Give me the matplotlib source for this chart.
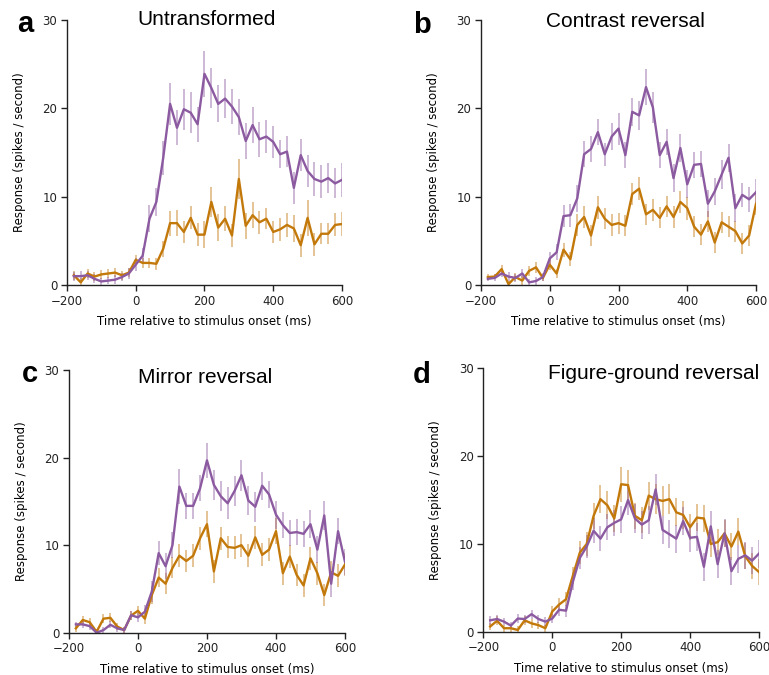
import numpy as np
import matplotlib
matplotlib.use("Agg")
import matplotlib.pyplot as plt
from matplotlib.colors import to_rgba

# time bins (ms), 20 ms steps
t = np.arange(-180, 601, 20)

titles = ["Untransformed", "Contrast reversal", "Mirror reversal", "Figure-ground reversal"]
letters = ["a", "b", "c", "d"]

# purple = preferred, orange = other
purple_a = [1.0, 1.0, 1.1, 0.7, 0.4, 0.5, 0.6, 0.9, 1.3, 2.3,
            3.3, 7.5, 9.4, 14.4, 20.5, 17.8, 19.9, 19.5, 18.2, 23.9,
            22.3, 20.5, 21.1, 20.2, 19.0, 16.3, 18.1, 16.5, 16.8, 16.2,
            14.8, 15.1, 11.0, 14.7, 12.9, 12.0, 11.7, 12.1, 11.5, 11.9]
orange_a = [1.1, 0.3, 1.3, 0.95, 1.2, 1.3, 1.4, 1.1, 1.4, 2.85,
            2.5, 2.5, 2.4, 4.1, 7.0, 7.0, 6.0, 7.6, 5.7, 5.7,
            9.4, 6.5, 7.5, 5.6, 12.0, 6.7, 7.9, 7.1, 7.5, 6.0,
            6.3, 6.8, 6.4, 4.5, 7.6, 4.6, 5.8, 5.8, 6.8, 6.9]
purple_a_err = [0.5, 0.6, 0.5, 0.5, 0.4, 0.4, 0.5, 0.5, 0.6, 0.7,
                0.9, 1.5, 1.6, 1.9, 2.4, 2.0, 2.3, 2.3, 2.0, 2.6,
                2.3, 2.1, 2.2, 2.0, 2.0, 2.0, 2.0, 2.0, 1.9, 1.8,
                1.6, 1.8, 1.8, 1.8, 1.8, 1.9, 1.9, 1.7, 1.7, 1.9]
orange_a_err = [0.5, 0.5, 0.5, 0.5, 0.5, 0.5, 0.5, 0.5, 0.5, 0.6,
                0.6, 0.6, 0.7, 0.9, 1.4, 1.5, 1.3, 1.3, 1.3, 1.5,
                1.7, 1.5, 1.4, 1.3, 2.3, 1.5, 1.5, 1.3, 1.2, 1.2,
                1.3, 1.4, 1.5, 1.3, 2.0, 1.3, 1.2, 1.2, 1.3, 1.4]

purple_b = [0.7, 0.8, 1.3, 0.95, 0.8, 1.3, 0.3, 0.45, 0.9, 3.0,
            3.7, 7.8, 7.9, 9.8, 14.8, 15.4, 17.3, 14.8, 16.8, 17.7,
            14.7, 19.6, 19.2, 22.4, 20.1, 14.7, 16.2, 12.1, 15.5, 11.4,
            13.6, 13.7, 9.2, 10.6, 12.5, 14.4, 8.7, 10.2, 9.7, 10.5]
orange_b = [0.9, 0.95, 1.8, 0.1, 0.9, 0.5, 1.6, 2.0, 0.8, 2.3,
            1.3, 4.0, 2.9, 6.8, 7.7, 5.6, 8.8, 7.5, 6.8, 7.0,
            6.7, 10.3, 10.9, 8.0, 8.5, 7.6, 8.9, 7.7, 9.4, 8.7,
            6.6, 5.7, 7.2, 4.8, 7.1, 6.6, 6.1, 4.7, 5.6, 9.2]
purple_b_err = [0.3, 0.4, 0.4, 0.5, 0.5, 0.5, 0.4, 0.4, 0.5, 0.7,
                0.9, 1.2, 1.3, 1.5, 1.5, 1.5, 1.5, 1.3, 1.5, 1.8,
                1.5, 1.6, 1.6, 2.0, 1.8, 1.5, 1.5, 1.6, 1.6, 1.6,
                1.5, 1.5, 1.5, 1.5, 1.6, 1.6, 1.6, 1.4, 1.4, 1.5]
orange_b_err = [0.3, 0.3, 0.5, 0.4, 0.5, 0.5, 0.6, 0.6, 0.4, 0.6,
                0.5, 0.8, 0.8, 1.2, 1.2, 1.2, 1.3, 1.2, 1.2, 1.2,
                1.2, 1.3, 1.3, 1.2, 1.2, 1.2, 1.2, 1.2, 1.2, 1.3,
                1.2, 1.2, 1.2, 1.2, 1.2, 1.2, 1.2, 1.2, 1.2, 1.3]

purple_c = [0.95, 0.95, 0.75, 0.0, 0.3, 0.9, 0.5, 0.3, 2.0, 1.75,
            2.4, 4.7, 9.1, 7.6, 10.0, 16.7, 14.5, 14.5, 16.5, 19.7,
            16.9, 15.6, 14.8, 16.2, 18.0, 15.1, 14.4, 16.8, 15.8, 13.5,
            12.3, 11.4, 11.5, 11.3, 12.4, 9.5, 13.4, 5.6, 11.6, 8.1]
orange_c = [0.5, 1.45, 1.2, 0.1, 1.6, 1.7, 0.7, 0.3, 1.95, 2.5,
            1.6, 4.3, 6.3, 5.6, 7.4, 8.8, 8.2, 8.8, 10.8, 12.4,
            7.0, 10.8, 9.8, 9.7, 10.0, 8.8, 10.9, 8.9, 9.5, 11.6,
            6.8, 8.7, 6.6, 5.4, 8.5, 6.8, 4.3, 6.9, 6.5, 7.8]
purple_c_err = [0.3, 0.4, 0.4, 0.3, 0.3, 0.4, 0.4, 0.3, 0.5, 0.5,
                0.8, 1.2, 1.4, 1.5, 1.5, 2.0, 1.5, 1.5, 1.5, 2.0,
                1.7, 1.7, 1.8, 1.7, 1.8, 1.7, 1.7, 1.6, 1.6, 1.6,
                1.5, 1.5, 1.5, 1.5, 1.6, 1.5, 1.7, 1.5, 1.5, 1.5]
orange_c_err = [0.4, 0.5, 0.5, 0.3, 0.5, 0.5, 0.4, 0.3, 0.5, 0.6,
                0.6, 1.0, 1.1, 1.2, 1.2, 1.3, 1.3, 1.3, 1.3, 1.5,
                1.3, 1.3, 1.3, 1.3, 1.3, 1.3, 1.3, 1.3, 1.3, 1.5,
                1.3, 1.3, 1.3, 1.3, 1.3, 1.3, 1.3, 1.3, 1.3, 1.3]

purple_d = [1.3, 1.45, 1.15, 0.7, 1.5, 1.45, 2.0, 1.45, 1.15, 1.5,
            2.5, 2.4, 5.7, 8.4, 9.7, 11.5, 10.6, 11.9, 12.4, 12.8,
            15.0, 12.9, 12.2, 12.7, 16.2, 11.6, 11.1, 10.6, 12.6, 10.7,
            10.8, 7.4, 12.0, 7.7, 11.2, 6.9, 8.3, 8.7, 8.1, 8.9]
orange_d = [0.6, 1.25, 0.4, 0.4, 0.2, 1.3, 0.95, 0.75, 0.4, 2.3,
            3.1, 3.7, 6.4, 9.0, 10.0, 13.2, 15.1, 14.4, 12.9, 16.8,
            16.7, 13.2, 12.7, 15.5, 15.1, 14.9, 15.1, 13.6, 13.3, 11.9,
            13.0, 12.9, 10.0, 10.2, 11.2, 9.7, 11.4, 8.6, 7.5, 6.8]
purple_d_err = [0.5, 0.5, 0.4, 0.4, 0.5, 0.5, 0.5, 0.5, 0.5, 0.5,
                0.7, 0.7, 1.0, 1.3, 1.3, 1.4, 1.4, 1.5, 1.5, 1.5,
                1.7, 1.6, 1.6, 1.6, 1.8, 1.6, 1.6, 1.6, 1.6, 1.6,
                1.6, 1.6, 1.7, 1.6, 1.6, 1.6, 1.6, 1.5, 1.5, 1.6]
orange_d_err = [0.4, 0.5, 0.4, 0.4, 0.4, 0.5, 0.5, 0.4, 0.4, 0.6,
                0.7, 0.8, 1.0, 1.3, 1.4, 1.5, 1.6, 1.6, 1.5, 2.0,
                1.7, 1.5, 1.5, 1.6, 1.7, 1.7, 1.7, 1.6, 1.6, 1.5,
                1.5, 1.5, 1.5, 1.5, 1.5, 1.5, 1.5, 1.5, 1.5, 1.5]

purples = [purple_a, purple_b, purple_c, purple_d]
oranges = [orange_a, orange_b, orange_c, orange_d]
purple_errs = [purple_a_err, purple_b_err, purple_c_err, purple_d_err]
orange_errs = [orange_a_err, orange_b_err, orange_c_err, orange_d_err]

PURPLE = "#8C5AA0"
ORANGE = "#C3780A"

rects = [[0.0871, 0.5778, 0.3576, 0.3926],
         [0.6255, 0.5778, 0.3576, 0.3926],
         [0.0897, 0.0627, 0.3589, 0.3887],
         [0.6285, 0.0641, 0.3585, 0.3902]]
title_xy = [(0.509, 1.002), (0.524, 0.996), (0.493, 0.974), (0.616, 0.982)]
letter_xy = [(0.022, 0.953), (0.537, 0.951), (0.028, 0.434), (0.537, 0.433)]

fig = plt.figure(figsize=(7.69, 6.75), dpi=100)

for i in range(4):
    ax = fig.add_axes(rects[i])
    ax.errorbar(t, oranges[i], yerr=orange_errs[i], color=ORANGE, lw=1.7,
                ecolor=to_rgba(ORANGE, 0.55), elinewidth=1.1, capsize=0)
    ax.errorbar(t, purples[i], yerr=purple_errs[i], color=PURPLE, lw=1.7,
                ecolor=to_rgba(PURPLE, 0.55), elinewidth=1.1, capsize=0)

    ax.set_xlim(-200, 600)
    ax.set_ylim(0, 30)
    ax.set_xticks([-200, 0, 200, 400, 600])
    ax.set_yticks([0, 10, 20, 30])
    ax.spines['top'].set_visible(False)
    ax.spines['right'].set_visible(False)
    for s in ('left', 'bottom'):
        ax.spines[s].set_linewidth(1.0)
        ax.spines[s].set_color("#222222")
    ax.tick_params(direction='out', length=4, width=1, labelsize=8.5, pad=3, colors="#222222")

    ax.set_xlabel("Time relative to stimulus onset (ms)", fontsize=8.5)
    ax.set_ylabel("Response (spikes / second)", fontsize=8.5)
    ax.xaxis.set_label_coords(0.5, -0.115)
    ax.yaxis.set_label_coords(-0.15, 0.5)

    ax.text(title_xy[i][0], title_xy[i][1], titles[i], transform=ax.transAxes,
            ha='center', va='center', fontsize=15, family='Liberation Sans')
    fig.text(letter_xy[i][0], letter_xy[i][1], letters[i], ha='left', va='baseline',
             fontsize=21, fontweight='bold', family='Liberation Sans')

plt.savefig("out.png", dpi=100)
